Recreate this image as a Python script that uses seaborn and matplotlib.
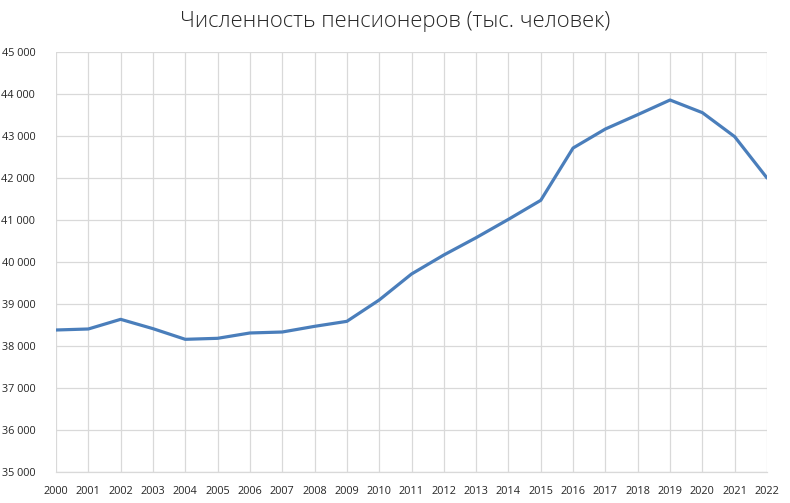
#!/usr/bin/env python3
"""Численность пенсионеров, 2000-2022."""

import matplotlib.pyplot as plt
import matplotlib.ticker as mticker
import pandas as pd
import seaborn as sns

YEARS = list(range(2000, 2023))
PENSIONERS = [
    38381, 38405, 38635, 38413, 38159, 38183, 38310, 38333, 38468, 38587,
    39095, 39714, 40167, 40579, 41016, 41469, 42714, 43167, 43508, 43857,
    43556, 42984, 42000,
]
TITLE = "Численность пенсионеров (тыс. человек)"

LINE_COLOR = "#4A7EBB"
GRID_COLOR = "#D9D9D9"
TEXT_COLOR = "#262626"


def main() -> None:
    sns.set_theme(style="white")
    plt.rcParams["font.family"] = ["Open Sans", "DejaVu Sans"]

    df = pd.DataFrame({"year": YEARS, "value": PENSIONERS})

    fig = plt.figure(figsize=(7.9, 5.03), dpi=100)
    ax = fig.add_axes([56 / 790, 31 / 503, 711 / 790, 420 / 503])

    sns.lineplot(data=df, x="year", y="value", color=LINE_COLOR,
                 linewidth=2.3, ax=ax, zorder=3)

    ax.set_xlim(2000, 2022)
    ax.set_ylim(35000, 45000)
    ax.set_xticks(YEARS)
    ax.set_yticks(range(35000, 45001, 1000))
    ax.yaxis.set_major_formatter(
        mticker.FuncFormatter(lambda v, _: f"{int(v):,}".replace(",", " "))
    )

    ax.grid(True, color=GRID_COLOR, linewidth=0.9)
    ax.set_axisbelow(True)
    for side in ("top", "right", "left"):
        ax.spines[side].set_visible(False)
    ax.spines["bottom"].set_color(GRID_COLOR)
    ax.spines["bottom"].set_linewidth(0.9)

    ax.tick_params(axis="both", length=0, labelsize=7.8, colors=TEXT_COLOR)
    ax.tick_params(axis="y", pad=15)
    ax.tick_params(axis="x", pad=10)
    ax.set_xlabel("")
    ax.set_ylabel("")

    fig.text(0.5, 1 - 22 / 503, TITLE, ha="center", va="center",
             fontsize=15.8, color=TEXT_COLOR, fontweight="light")

    fig.savefig("out.png", dpi=100)
    plt.close(fig)


if __name__ == "__main__":
    main()
